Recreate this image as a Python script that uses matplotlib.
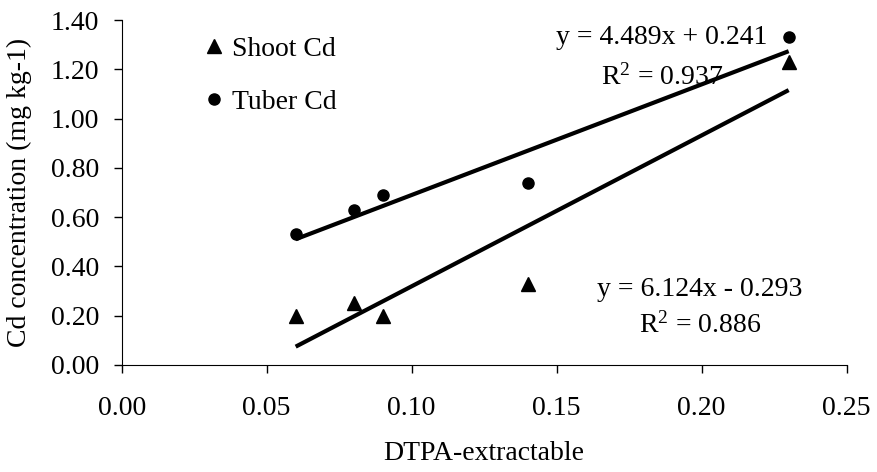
import matplotlib
matplotlib.use("Agg")
import matplotlib.pyplot as plt
import numpy as np

# data
dtpa = [0.06, 0.08, 0.09, 0.14, 0.23]
shoot_cd = [0.20, 0.25, 0.20, 0.33, 1.23]
tuber_cd = [0.53, 0.63, 0.69, 0.74, 1.33]

# trend lines as printed on the chart
shoot_fit = (6.124, -0.293)
tuber_fit = (4.489, 0.241)

xticks = [0.00, 0.05, 0.10, 0.15, 0.20, 0.25]
yticks = [0.00, 0.20, 0.40, 0.60, 0.80, 1.00, 1.20, 1.40]

plt.rcParams['font.family'] = ['Liberation Serif', 'DejaVu Serif']
plt.rcParams['mathtext.fontset'] = 'custom'
plt.rcParams['mathtext.rm'] = 'Liberation Serif'
plt.rcParams['mathtext.it'] = 'Liberation Serif'
plt.rcParams['font.size'] = 20

fig = plt.figure(figsize=(8.78, 4.72), dpi=100)
ax = fig.add_axes([0.1386, 0.2267, 0.8257, 0.7309])

ax.plot(dtpa, shoot_cd, linestyle='none', marker='^', color='black', markersize=10, label='Shoot Cd')
ax.plot(dtpa, tuber_cd, linestyle='none', marker='o', color='black', markersize=8, label='Tuber Cd')

xs = np.array([min(dtpa), max(dtpa)])
ax.plot(xs, shoot_fit[0] * xs + shoot_fit[1], color='black', linewidth=3, solid_capstyle='butt')
ax.plot(xs, tuber_fit[0] * xs + tuber_fit[1], color='black', linewidth=3, solid_capstyle='butt')

ax.set_xlim(0, 0.25)
ax.set_ylim(0, 1.40)
ax.set_xticks(xticks)
ax.set_yticks(yticks)
ax.set_xticklabels(["%.2f" % v for v in xticks])
ax.set_yticklabels(["%.2f" % v for v in yticks])
ax.tick_params(direction='out', length=6, width=1)
ax.tick_params(axis='x', pad=16)
ax.tick_params(axis='y', pad=10)
ax.spines['top'].set_visible(False)
ax.spines['right'].set_visible(False)

ax.set_xlabel("DTPA-extractable", labelpad=15)
ax.set_ylabel("Cd concentration (mg kg-1)", labelpad=14)

leg = ax.legend(loc='upper left', bbox_to_anchor=(0.07, 1.025), frameon=False,
                handletextpad=0.05, labelspacing=1.0, handlelength=1.2, fontsize=20)

ax.text(0.1863, 1.328, "y = 4.489x + 0.241", ha='center', va='center')
ax.text(0.1865, 1.168, "R$^2$ = 0.937", ha='center', va='center')
ax.text(0.1994, 0.308, "y = 6.124x - 0.293", ha='center', va='center')
ax.text(0.1995, 0.16, "R$^2$ = 0.886", ha='center', va='center')

plt.savefig("out.png", dpi=100)
